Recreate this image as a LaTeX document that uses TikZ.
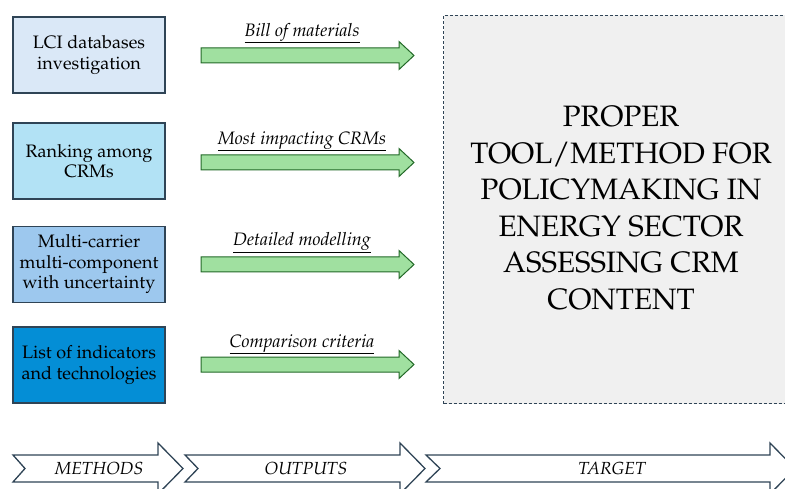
\documentclass[tikz,border=0pt]{standalone}
\usepackage[T1]{fontenc}
\renewcommand{\rmdefault}{ppl}

\definecolor{edgeslate}{RGB}{47,68,86}
\definecolor{boxA}{RGB}{218,232,247}
\definecolor{boxB}{RGB}{178,226,245}
\definecolor{boxC}{RGB}{157,200,238}
\definecolor{boxD}{RGB}{4,142,214}
\definecolor{arrowfill}{RGB}{160,224,160}
\definecolor{arrowedge}{RGB}{35,105,40}
\definecolor{targetfill}{RGB}{240,240,240}

\tikzset{
  methodbox/.style={draw=edgeslate, line width=1.1pt, minimum width=152pt,
    minimum height=76pt, align=center, inner sep=2pt,
    font=\fontsize{18}{20.5}\selectfont},
  outarrow/.style={draw=arrowedge, fill=arrowfill, line width=1pt, line join=miter},
  outlabel/.style={font=\fontsize{18}{20}\selectfont\itshape, inner sep=1pt},
  stagearrow/.style={draw=edgeslate, line width=1.3pt, fill=white, line join=miter},
  stagelabel/.style={font=\fontsize{17.5}{20}\selectfont\itshape}
}

\begin{document}
\begin{tikzpicture}[x=1pt, y=-1pt]
\useasboundingbox (0,0) rectangle (785,489);
\clip (0,0) rectangle (785,489);

% target block
\node[draw=edgeslate, dash pattern=on 3pt off 2pt, line width=1pt, fill=targetfill,
      minimum width=358pt, minimum height=388pt, anchor=north west]
  (target) at (443,15) {};
\node[align=center, font=\fontsize{29.5}{36.5}\selectfont] (targettext) at (621,208)
  {PROPER\\TOOL/METHOD FOR\\POLICYMAKING IN\\ENERGY SECTOR\\ASSESSING CRM\\CONTENT};

% method boxes
\node[methodbox, fill=boxA] (m1) at (89,55) {LCI databases\\investigation};
\node[methodbox, fill=boxB] (m2) at (89,161) {Ranking among\\CRMs};
\node[methodbox, fill=boxC] (m3) at (89,264.5) {Multi-carrier\\multi-component\\with uncertainty};
\node[methodbox, fill=boxD] (m4) at (89,365) {List of indicators\\and technologies};

% output arrows: shaft 198pt long, 15pt thick, head 28pt wide and 15pt long
\coordinate (o1) at (201,55.5);
\coordinate (o2) at (201,162.5);
\coordinate (o3) at (201,264.5);
\coordinate (o4) at (201,364.5);
\foreach \o in {o1,o2,o3,o4}{
  \draw[outarrow] (\o) ++(0,-7.5) -- ++(198,0) -- ++(0,-6.5) -- ++(15,14)
    -- ++(-15,14) -- ++(0,-6.5) -- ++(-198,0) -- cycle;
}

\node[outlabel] (l1) at (302,33) {\underline{Bill of materials}};
\node[outlabel] (l2) at (302,141) {\underline{Most impacting CRMs}};
\node[outlabel] (l3) at (302,242.5) {\underline{Detailed modelling}};
\node[outlabel] (l4) at (302,344) {\underline{Comparison criteria}};

% stage chevrons along the bottom
\draw[stagearrow] (13,455) -- (158,455) -- (158,443) -- (183,468.5) -- (158,494)
  -- (158,482) -- (13,482) -- (25,468.5) -- cycle;
\draw[stagearrow] (185,455) -- (400,455) -- (400,443) -- (425,468.5) -- (400,494)
  -- (400,482) -- (185,482) -- (198,468.5) -- cycle;
\draw[stagearrow] (426,455) -- (770,455) -- (770,443) -- (795,468.5) -- (770,494)
  -- (770,482) -- (426,482) -- (440,468.5) -- cycle;

\node[stagelabel] (s1) at (99,468.5) {METHODS};
\node[stagelabel] (s2) at (306,468.5) {OUTPUTS};
\node[stagelabel] (s3) at (612,468.5) {TARGET};
\end{tikzpicture}
\end{document}
